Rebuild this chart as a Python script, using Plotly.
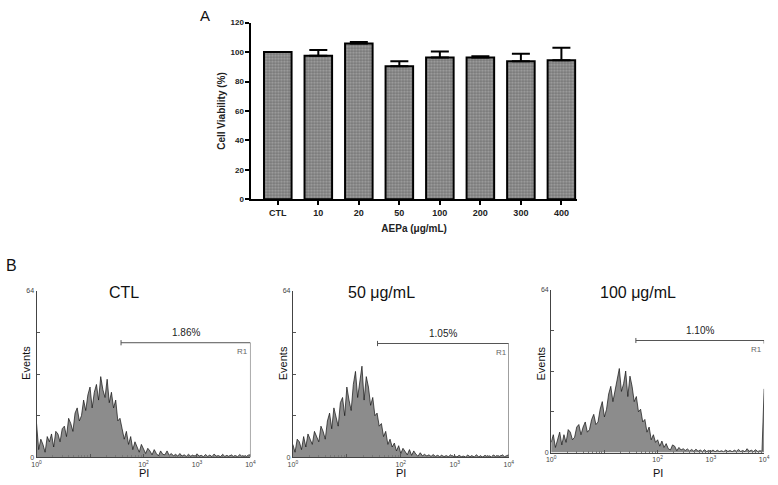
import math
import plotly.graph_objects as go

W, H = 778, 485

# Panel A: cell viability vs AEPa dose
doses = ["CTL", "10", "20", "50", "100", "200", "300", "400"]
viability = [100, 97.5, 105.8, 90.3, 96.4, 96.4, 93.8, 94.4]
viability_sd = [0, 4.0, 1.1, 3.4, 4.0, 0.7, 5.1, 8.5]

# Panel B: PI histograms, events per channel, one channel every 0.04 decade from 10^0 to 10^4
decade_step = 0.04
ctl_counts = [
    13, 3, 7, 5, 2, 8, 6, 9, 4, 10, 9, 6, 11, 12, 8, 15, 13, 10, 17, 19,
    14, 16, 22, 18, 24, 27, 19, 25, 28, 22, 31, 26, 23, 30, 21, 25, 19, 22, 14, 15,
    11, 7, 10, 5, 8, 3, 6, 4, 2, 5, 3, 1.5, 3.5, 2.5, 1, 3, 1.5, 0.6, 2.5, 1.2,
    1, 2.5, 0.8, 1.5, 0.6, 1.2, 0.5, 1.5, 0.5, 1, 0.4, 1.2, 0.5, 0.9, 0.3, 1.4, 0.5, 0.8, 0.3, 1.1,
    0.4, 0.9, 0.3, 1.3, 0.5, 0.7, 0.3, 1.2, 0.4, 0.8, 0.3, 1.0, 0.4, 0.7, 0.3, 1.1, 0.4, 0.6, 0.3, 0.9,
    1,
]
aepa50_counts = [
    5, 2, 7, 6, 3, 8, 4, 9, 7, 5, 10, 8, 6, 12, 10, 7, 14, 17, 11, 19,
    16, 12, 21, 23, 16, 27, 22, 18, 28, 33, 23, 29, 35, 22, 31, 27, 20, 23, 16, 17,
    12, 13, 8, 10, 5, 7, 4, 5.5, 2.5, 4.5, 1.5, 3.5, 2, 1, 3, 0.8, 2.5, 1.2, 0.5, 1.8,
    0.6, 1.2, 0.5, 1.0, 0.4, 1.1, 0.4, 0.8, 0.3, 0.9, 0.3, 0.7, 0.3, 1.0, 0.3, 0.6, 0.2, 0.8, 0.3, 0.5,
    0.2, 0.9, 0.3, 0.6, 0.2, 1.0, 0.3, 0.5, 0.2, 0.8, 0.3, 0.6, 0.2, 0.9, 0.3, 0.7, 0.3, 1.0, 0.3, 0.8,
    1,
]
aepa100_counts = [
    4, 7, 2, 5, 8, 3, 7, 4, 9, 8, 5, 6, 10, 11, 7, 10, 12, 8, 9, 13,
    15, 11, 12, 17, 20, 14, 17, 23, 26, 20, 24, 29, 33, 24, 27, 32, 22, 30, 26, 20,
    22, 16, 17, 12, 13, 8, 10, 5, 7, 4, 5, 2.5, 4.5, 2, 3.5, 1.5, 1, 3, 2.5, 0.7,
    2, 1, 1.5, 0.8, 1.4, 0.6, 1.2, 0.5, 1.3, 0.5, 1.0, 0.4, 1.1, 0.4, 0.8, 0.4, 1.0, 0.3, 0.9, 0.4,
    0.7, 0.3, 1.0, 0.4, 0.8, 0.3, 0.9, 0.5, 1.2, 0.4, 0.8, 0.3, 1.5, 0.5, 0.9, 0.4, 1.1, 0.4, 0.7, 0.5,
    25,
]
histograms = [ctl_counts, aepa50_counts, aepa100_counts]
panel_titles = ["CTL", "50 μg/mL", "100 μg/mL"]
gate_percent = ["1.86%", "1.05%", "1.10%"]
gate_start = [38, 37, 39]
gate_end = 10000
gate_level = [44, 43.7, 44]
gate_drop = [0, 0, 42.8]

FONT = "Arial, Liberation Sans, sans-serif"


def px_x(x):
    return x / W


def px_y(y):
    return 1 - y / H


fig = go.Figure()

# ---- panel A bars
fig.add_trace(go.Bar(
    x=list(range(len(doses))), y=viability, width=0.68,
    marker=dict(color="#999999",
                pattern=dict(shape=".", fgcolor="#333333", bgcolor="#a8a8a8", size=3, solidity=0.5),
                line=dict(color="black", width=2)),
    error_y=dict(type="data", symmetric=False, array=viability_sd, arrayminus=[0] * len(doses),
                 color="black", thickness=2, width=9),
    xaxis="x", yaxis="y", showlegend=False,
))

# ---- panel B histograms
panel_x = [(32, 249), (292, 511), (554, 770)]
panel_y = [(462, 292), (462, 292), (457, 291)]

layout_axes = {}
annotations = []
for k, counts in enumerate(histograms):
    n = k + 2
    xs = [10 ** (i * decade_step) for i in range(len(counts))]
    fig.add_trace(go.Scatter(
        x=xs, y=counts, mode="lines", line=dict(color="#111", width=0.7),
        fill="tozeroy", fillcolor="#8c8c8c", xaxis=f"x{n}", yaxis=f"y{n}",
        showlegend=False, hoverinfo="skip",
    ))
    gs, lvl, drop = gate_start[k], gate_level[k], gate_drop[k]
    fig.add_trace(go.Scatter(
        x=[gs, gs, None, gs, gate_end, gate_end],
        y=[lvl - 1.0, lvl + 1.0, None, lvl, lvl, drop],
        mode="lines", line=dict(color="#555", width=1),
        xaxis=f"x{n}", yaxis=f"y{n}", showlegend=False, hoverinfo="skip",
    ))
    x0, x1 = panel_x[k]
    yb, yt = panel_y[k]
    layout_axes[f"xaxis{n}"] = dict(
        domain=[px_x(x0), px_x(x1)], anchor=f"y{n}", type="log", range=[0, 4],
        tickvals=[1, 10, 100, 1000, 10000],
        ticktext=["10<sup>0</sup>", "", "10<sup>2</sup>", "10<sup>3</sup>", "10<sup>4</sup>"],
        ticks="inside", ticklen=3, tickcolor="#555", tickfont=dict(size=7, color="#444"),
        minor=dict(ticks="inside", ticklen=2, tickcolor="#777", dtick="D1"),
        showline=True, linecolor="#444", linewidth=1, showgrid=False, zeroline=False,
    )
    layout_axes[f"yaxis{n}"] = dict(
        domain=[px_y(yb), px_y(yt)], anchor=f"x{n}", range=[0, 64],
        tickvals=[0, 16, 32, 48, 64], ticktext=["0", "", "", "", "64"],
        ticks="inside", ticklen=3, tickcolor="#555", tickfont=dict(size=7, color="#444"),
        showline=True, linecolor="#444", linewidth=1, showgrid=False, zeroline=False,
    )
    mid = (math.log10(gs) + 4) / 2
    annotations += [
        dict(text=gate_percent[k], xref=f"x{n}", yref=f"y{n}", x=mid, y=lvl + 1,
             xanchor="center", yanchor="bottom", showarrow=False,
             font=dict(size=10, color="#222")),
        dict(text="R1", xref=f"x{n}", yref=f"y{n}", x=4, y=lvl - 0.8,
             xanchor="right", yanchor="top", showarrow=False,
             font=dict(size=8, color="#666")),
        dict(text=panel_titles[k], xref="paper", yref="paper",
             x=px_x(x0 + 0.41 * (x1 - x0)), y=px_y(294),
             xanchor="center", yanchor="middle", showarrow=False,
             font=dict(size=16, color="#111")),
        dict(text="Events", xref="paper", yref="paper", x=px_x(x0 - 10), y=px_y(366),
             textangle=-90, xanchor="center", yanchor="middle", showarrow=False,
             font=dict(size=11, color="#111")),
        dict(text="PI", xref="paper", yref="paper", x=px_x(x0 + 0.5 * (x1 - x0)), y=px_y(478),
             xanchor="center", yanchor="middle", showarrow=False,
             font=dict(size=11, color="#111")),
    ]

annotations += [
    dict(text="A", xref="paper", yref="paper", x=px_x(203), y=px_y(12), xanchor="center",
         yanchor="middle", showarrow=False, font=dict(size=15, color="#111")),
    dict(text="B", xref="paper", yref="paper", x=px_x(7), y=px_y(266), xanchor="center",
         yanchor="middle", showarrow=False, font=dict(size=16, color="#111")),
]

bold9 = dict(size=9, color="#222", weight="bold")
bold8 = dict(size=8, color="#222", weight="bold")
fig.update_layout(
    width=W, height=H, margin=dict(l=0, r=0, t=0, b=0),
    paper_bgcolor="white", plot_bgcolor="white",
    font=dict(family=FONT),
    xaxis=dict(
        domain=[px_x(250), px_x(580)], anchor="y", range=[-0.65, 7.38],
        tickvals=list(range(len(doses))), ticktext=doses,
        ticks="outside", ticklen=4, tickwidth=2, tickcolor="black", tickfont=bold9,
        showline=True, linecolor="black", linewidth=2, showgrid=False, zeroline=False,
        title=dict(text="AEPa (μg/mL)", font=dict(size=10, color="#222", weight="bold"), standoff=8),
    ),
    yaxis=dict(
        domain=[px_y(199), px_y(19)], anchor="x", range=[0, 120], dtick=20,
        ticks="outside", ticklen=4, tickwidth=2, tickcolor="black", tickfont=bold8,
        showline=True, linecolor="black", linewidth=2, showgrid=False, zeroline=False,
        title=dict(text="Cell Viability (%)", font=dict(size=10, color="#222", weight="bold"), standoff=3),
    ),
    annotations=annotations,
    **layout_axes,
)

fig.write_html("out.html", config={"displayModeBar": False},
               post_script="document.body.style.margin='0';")
